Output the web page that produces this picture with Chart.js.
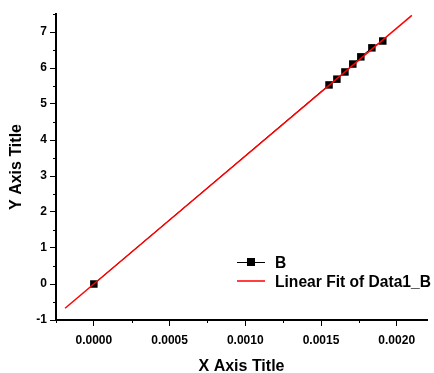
<!DOCTYPE html>
<html lang="en">
<head>
  <meta charset="UTF-8"/>
  <title>Linear Fit of Data1_B</title>
  <style>
    body { margin: 0; background: #fff; }
    #wrap { width: 434px; height: 373px; }
  </style>
</head>
<body>
  <div id="wrap"><canvas id="chart"></canvas></div>

  <script src="https://cdn.jsdelivr.net/npm/chart.js"></script>
  <script>
  // measured data (series B)
  const bX = [0, 0.001553, 0.001605, 0.001658, 0.00171, 0.001763, 0.001836, 0.001908];
  const bY = [0, 5.53, 5.69, 5.89, 6.11, 6.31, 6.56, 6.75];
  // linear fit line end points
  const fitX = [-0.00019, 0.0021];
  const fitY = [-0.675, 7.46];
  const seriesNames = ['B', 'Linear Fit of Data1_B'];
  // tick positions (major ones get labels, the rest are minor)
  const xTicks = [-0.00025, 0, 0.00025, 0.0005, 0.00075, 0.001, 0.00125, 0.0015, 0.00175, 0.002];
  const yTicks = [-1, -0.5, 0, 0.5, 1, 1.5, 2, 2.5, 3, 3.5, 4, 4.5, 5, 5.5, 6, 6.5, 7, 7.5];

  const FONT = '"Liberation Sans", Arial, sans-serif';

  const isStep = (v, step) => Math.abs(v / step - Math.round(v / step)) < 1e-6;

  // short minor ticks + legend drawn inside the plot
  const extras = {
    id: 'extras',
    afterDraw(chart) {
      const ctx = chart.ctx;
      const xs = chart.scales.x, ys = chart.scales.y;
      ctx.save();
      ctx.strokeStyle = '#000';
      ctx.lineWidth = 1;
      ctx.beginPath();
      xs.ticks.forEach(t => {
        if (!isStep(t.value, 0.0005)) {
          const px = Math.round(xs.getPixelForValue(t.value)) + 0.5;
          ctx.moveTo(px, xs.top); ctx.lineTo(px, xs.top + 3);
        }
      });
      ys.ticks.forEach(t => {
        if (!isStep(t.value, 1)) {
          const py = Math.round(ys.getPixelForValue(t.value)) + 0.5;
          ctx.moveTo(ys.right, py); ctx.lineTo(ys.right - 3, py);
        }
      });
      ctx.stroke();

      // legend
      const lx = 237, ly = 262;
      ctx.font = 'bold 15.6px ' + FONT;
      ctx.textBaseline = 'middle';
      ctx.fillStyle = '#000';
      ctx.beginPath();
      ctx.moveTo(lx, ly + 0.5); ctx.lineTo(lx + 28, ly + 0.5);
      ctx.stroke();
      ctx.fillRect(lx + 10, ly - 4, 8, 8);
      ctx.fillText(seriesNames[0], lx + 38, ly + 2);
      ctx.strokeStyle = '#ff0000';
      ctx.lineWidth = 1.5;
      ctx.beginPath();
      ctx.moveTo(lx, ly + 19); ctx.lineTo(lx + 28, ly + 19);
      ctx.stroke();
      ctx.fillText(seriesNames[1], lx + 38, ly + 21);
      ctx.restore();
    }
  };

  Chart.defaults.font.family = FONT;
  Chart.defaults.color = '#000';

  new Chart(document.getElementById('chart'), {
    type: 'scatter',
    data: {
      datasets: [
        {
          label: seriesNames[0],
          data: bX.map((x, i) => ({ x, y: bY[i] })),
          showLine: true,
          borderColor: '#000',
          borderWidth: 1,
          backgroundColor: '#000',
          pointStyle: 'rect',
          pointRadius: 5.3,
          pointBorderWidth: 0,
          order: 1
        },
        {
          label: seriesNames[1],
          data: fitX.map((x, i) => ({ x, y: fitY[i] })),
          showLine: true,
          borderColor: '#ff0000',
          borderWidth: 1.5,
          pointRadius: 0,
          order: 0
        }
      ]
    },
    options: {
      responsive: true,
      maintainAspectRatio: false,
      animation: false,
      layout: { padding: { top: 14, right: 7, left: 0, bottom: 0 } },
      plugins: { legend: { display: false }, tooltip: { enabled: false } },
      scales: {
        x: {
          type: 'linear',
          min: -0.00025,
          max: 0.0022,
          afterBuildTicks: s => { s.ticks = xTicks.map(value => ({ value })); },
          afterFit: s => { s.height = 53; },
          border: { display: true, color: '#000', width: 2 },
          grid: {
            drawOnChartArea: false,
            tickLength: 6,
            tickColor: c => (c.tick && isStep(c.tick.value, 0.0005)) ? '#000' : 'rgba(0,0,0,0)'
          },
          ticks: {
            autoSkip: false,
            maxRotation: 0,
            padding: 7,
            font: { size: 12, weight: 'bold' },
            callback: v => isStep(v, 0.0005) ? v.toFixed(4) : ''
          },
          title: {
            display: true,
            text: 'X Axis Title',
            font: { size: 16, weight: 'bold' },
            padding: { top: 0, bottom: -3 }
          }
        },
        y: {
          type: 'linear',
          min: -1,
          max: 7.5,
          afterBuildTicks: s => { s.ticks = yTicks.map(value => ({ value })); },
          afterFit: s => { s.width = 56; },
          border: { display: true, color: '#000', width: 2 },
          grid: {
            drawOnChartArea: false,
            tickLength: 6,
            tickColor: c => (c.tick && isStep(c.tick.value, 1)) ? '#000' : 'rgba(0,0,0,0)'
          },
          ticks: {
            autoSkip: false,
            padding: 3,
            font: { size: 12, weight: 'bold' },
            callback: v => isStep(v, 1) ? String(v) : ''
          },
          title: {
            display: true,
            text: 'Y Axis Title',
            font: { size: 16, weight: 'bold' },
            padding: { top: 7, bottom: 0 }
          }
        }
      }
    },
    plugins: [extras]
  });
  </script>
</body>
</html>
